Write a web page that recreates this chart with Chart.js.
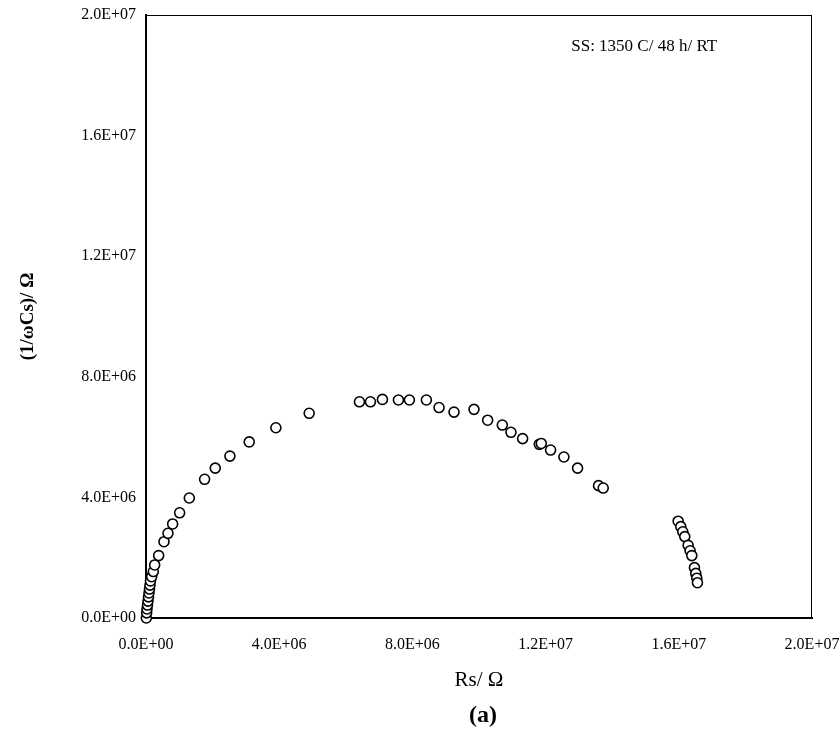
<!DOCTYPE html>
<html lang="en">

<head>
    <meta charset="UTF-8">
    <title>Impedance plot</title>
    <script src="https://cdn.jsdelivr.net/npm/chart.js"></script>
    <style>
        body {
            margin: 0;
            padding: 0;
            background: #fff;
        }

        canvas {
            display: block;
        }
    </style>
</head>

<body>
    <canvas id="nyquist" width="840" height="739"></canvas>

    <script>
        // Rs (ohm) and 1/(wCs) (ohm)
        const rs = [
            0.01e6, 0.02e6, 0.03e6, 0.045e6, 0.06e6, 0.075e6, 0.09e6, 0.105e6, 0.12e6, 0.135e6,
            0.17e6, 0.22e6, 0.26e6, 0.38e6, 0.54e6, 0.66e6, 0.80e6, 1.01e6, 1.30e6, 1.76e6,
            2.08e6, 2.52e6, 3.10e6, 3.90e6, 4.90e6, 6.41e6, 6.74e6, 7.10e6, 7.58e6, 7.91e6,
            8.42e6, 8.80e6, 9.25e6, 9.85e6, 10.26e6, 10.70e6, 10.96e6, 11.31e6, 11.81e6, 11.87e6,
            12.15e6, 12.55e6, 12.96e6, 13.59e6, 13.73e6, 15.98e6, 16.06e6, 16.12e6, 16.18e6, 16.28e6,
            16.34e6, 16.39e6, 16.47e6, 16.51e6, 16.54e6, 16.56e6
        ];
        const invWCs = [
            0.00e6, 0.17e6, 0.30e6, 0.43e6, 0.56e6, 0.70e6, 0.83e6, 0.96e6, 1.09e6, 1.23e6,
            1.37e6, 1.54e6, 1.76e6, 2.07e6, 2.53e6, 2.81e6, 3.12e6, 3.49e6, 3.98e6, 4.60e6,
            4.97e6, 5.37e6, 5.84e6, 6.31e6, 6.79e6, 7.17e6, 7.17e6, 7.25e6, 7.23e6, 7.23e6,
            7.23e6, 6.98e6, 6.83e6, 6.92e6, 6.56e6, 6.40e6, 6.16e6, 5.95e6, 5.76e6, 5.79e6,
            5.57e6, 5.34e6, 4.97e6, 4.39e6, 4.31e6, 3.21e6, 3.03e6, 2.86e6, 2.70e6, 2.41e6,
            2.23e6, 2.07e6, 1.67e6, 1.48e6, 1.32e6, 1.17e6
        ];
        const axisMin = 0;
        const axisMax = 2.0e7;
        const axisStep = 4.0e6;
        const note = 'SS: 1350 C/ 48 h/ RT';
        const panelLabel = '(a)';

        const serif = '"Liberation Serif", "DejaVu Serif", serif';

        // 8.0e+6 -> 8.0E+06
        function sci(v) {
            return Number(v).toExponential(1).toUpperCase().replace(/E([+-])(\d)$/, 'E$10$2');
        }

        const points = rs.map((x, i) => ({ x: x, y: invWCs[i] }));

        // box round the plot, the note and the panel label
        const extras = {
            id: 'extras',
            beforeDatasetsDraw(chart) {
                const { ctx, chartArea: a } = chart;
                ctx.save();
                ctx.strokeStyle = '#000';
                ctx.lineWidth = 1;
                ctx.strokeRect(a.left + 0.5, a.top + 0.5, a.right - a.left - 1, a.bottom - a.top);
                ctx.restore();
            },
            afterDraw(chart) {
                const { ctx, chartArea: a } = chart;
                ctx.save();
                ctx.fillStyle = '#000';
                ctx.textAlign = 'center';
                ctx.textBaseline = 'middle';
                ctx.font = '17px ' + serif;
                ctx.fillText(note, a.left + (a.right - a.left) * 0.748, a.top + 32);
                ctx.font = 'bold 24px ' + serif;
                ctx.fillText(panelLabel, (a.left + a.right) / 2 + 4, 716);
                ctx.restore();
            }
        };

        new Chart(document.getElementById('nyquist').getContext('2d'), {
            type: 'scatter',
            data: {
                datasets: [{
                    data: points,
                    pointStyle: 'circle',
                    pointRadius: 5,
                    pointHoverRadius: 5,
                    pointBorderWidth: 1.6,
                    borderColor: '#000',
                    backgroundColor: '#fff',
                    clip: false
                }]
            },
            options: {
                responsive: false,
                animation: false,
                events: [],
                layout: { padding: { top: 15, right: 28, left: 0, bottom: 0 } },
                plugins: {
                    legend: { display: false },
                    tooltip: { enabled: false }
                },
                scales: {
                    x: {
                        type: 'linear',
                        min: axisMin,
                        max: axisMax,
                        afterFit(scale) {
                            scale.height = 121;
                            scale.paddingLeft = 0;
                            scale.paddingRight = 0;
                        },
                        grid: { display: false, drawTicks: false },
                        border: { display: true, color: '#000', width: 2 },
                        ticks: {
                            stepSize: axisStep,
                            padding: 17,
                            color: '#000',
                            font: { family: serif, size: 16 },
                            maxRotation: 0,
                            callback: sci
                        },
                        title: {
                            display: true,
                            text: 'Rs/ Ω',
                            color: '#000',
                            font: { family: serif, size: 21 },
                            padding: { top: 46, bottom: 46 }
                        }
                    },
                    y: {
                        type: 'linear',
                        min: axisMin,
                        max: axisMax,
                        afterFit(scale) {
                            scale.width = 146;
                            scale.paddingTop = 0;
                            scale.paddingBottom = 0;
                        },
                        grid: { display: false, drawTicks: false },
                        border: { display: true, color: '#000', width: 2 },
                        ticks: {
                            stepSize: axisStep,
                            padding: 10,
                            color: '#000',
                            font: { family: serif, size: 16 },
                            callback: sci
                        },
                        title: {
                            display: true,
                            text: '(1/ωCs)/ Ω',
                            color: '#000',
                            font: { family: serif, size: 19, weight: 'bold' },
                            padding: { top: 17, bottom: 17 }
                        }
                    }
                }
            },
            plugins: [extras]
        });
    </script>
</body>

</html>
